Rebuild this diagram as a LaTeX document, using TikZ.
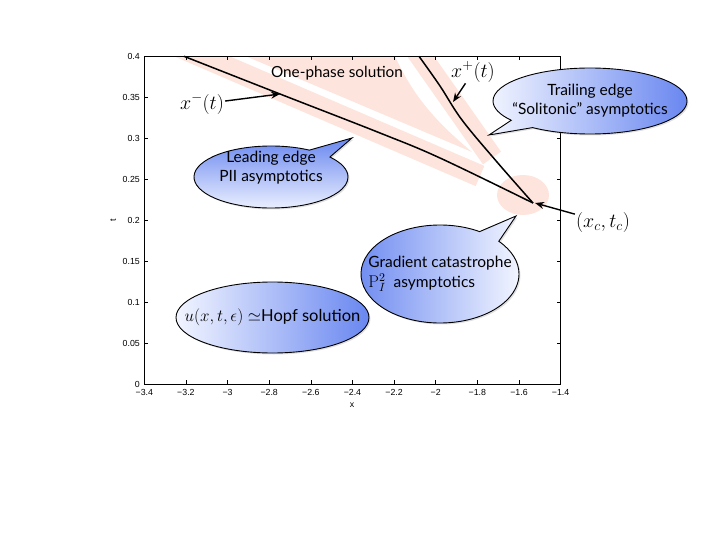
\documentclass[tikz,border=0pt]{standalone}
\usepackage{fix-cm}
\usepackage[no-math]{fontspec}
\setmainfont{Lato}
\newfontfamily\axisfont{Liberation Sans}
\usetikzlibrary{arrows.meta,shapes.geometric,shapes.callouts,shadows}

\definecolor{phasepink}{RGB}{253,228,220}
\definecolor{bubbleblue}{RGB}{105,135,240}
\definecolor{bubblelight}{RGB}{242,245,255}

\tikzset{
  phase/.style={color=phasepink},
  edgecurve/.style={line width=1.5pt, black},
  labelarrow/.style={-{Stealth[length=9pt,width=7pt]}, line width=1.4pt},
  mathlabel/.style={font=\fontsize{20}{23}\selectfont, inner sep=1pt},
  ticklabel/.style={font=\axisfont\fontsize{8.8}{10}\selectfont, inner sep=1pt},
  bubble/.style={draw=black, line width=0.9pt, inner xsep=-22pt, inner ysep=-10pt,
    align=center, font=\fontsize{15.5}{19}\selectfont,
    drop shadow={opacity=0.25, shadow xshift=1.5pt, shadow yshift=-1.5pt}},
}

\begin{document}
\begin{tikzpicture}[x=1pt,y=-1pt]
    \useasboundingbox (0,0) rectangle (719,540);

    \begin{scope}
        \clip (144.3,56.3) rectangle (560.6,384.3);
        \fill[phase] (246,56.3) -- (395,56.3) .. controls (415,100) and (440,125) .. (472,152) -- cycle;
        \draw[phase, line width=22pt] (178,46) -- (480,176);
        \draw[phase, line width=22pt] (412,44) -- (492,158);
        \fill[phase] (523,195) ellipse [x radius=26pt, y radius=20pt];
    \end{scope}

    \draw[line width=0.6pt] (144.3,56.3) rectangle (560.6,384.3);
    \foreach \lab[count=\i] in {−3.4,−3.2,−3,−2.8,−2.6,−2.4,−2.2,−2,−1.8,−1.6,−1.4} {
        \pgfmathsetmacro\px{144.3+41.63*(\i-1)}
        \draw[line width=0.5pt] (\px,384.3) -- ++(0,-4);
        \draw[line width=0.5pt] (\px,56.3) -- ++(0,4);
        \node[ticklabel, anchor=north] (xt\i) at (\px,388.5) {\lab};
    }
    \foreach \lab[count=\i] in {0,0.05,0.1,0.15,0.2,0.25,0.3,0.35,0.4} {
        \pgfmathsetmacro\py{384.3-41*(\i-1)}
        \draw[line width=0.5pt] (144.3,\py) -- ++(4,0);
        \draw[line width=0.5pt] (560.6,\py) -- ++(-4,0);
        \node[ticklabel, anchor=east] (yt\i) at (141,\py) {\lab};
    }
    \node[ticklabel] (xaxis) at (352,405) {x};
    \node[ticklabel, rotate=90] (taxis) at (113,220) {t};

    \draw[edgecurve] plot[smooth, tension=0.6] coordinates {(184,56.3) (280,94) (380,133) (440,158) (533,203)};
    \draw[edgecurve] plot[smooth, tension=0.6] coordinates {(419,56.3) (440,86) (462,120) (497,162) (533,203)};

    \node[font=\fontsize{15.3}{18}\selectfont] (onephase) at (337,73) {One-phase solution};

    \node[bubble, ellipse callout, top color=bubbleblue, bottom color=bubblelight,
        minimum width=154pt, minimum height=62pt,
        callout absolute pointer={(352,138)}, callout pointer arc=20] (leading) at (271,177)
        {Leading edge\\PII asymptotics\\[-4pt]\strut};
    \node[bubble, ellipse callout, left color=bubblelight, right color=bubbleblue,
        minimum width=194pt, minimum height=66pt,
        callout absolute pointer={(489,135)}, callout pointer arc=18] (trailing) at (590,101)
        {Trailing edge\\“Solitonic” asymptotics};
    \node[bubble, ellipse callout, left color=bubbleblue, right color=bubblelight,
        minimum width=158pt, minimum height=98pt, align=left,
        callout absolute pointer={(516,216)}, callout pointer arc=18] (gradient) at (440,274)
        {Gradient catastrophe\\[1pt]{\fontsize{17}{17}\selectfont$\mathrm{P}_I^2$}\ \ asymptotics};
    \node[bubble, ellipse, left color=bubblelight, right color=bubbleblue,
        minimum width=193pt, minimum height=71pt, font=\fontsize{16.5}{19}\selectfont] (hopf) at (272.5,317.5)
        {{\fontsize{17}{19}\selectfont$u(x,t,\epsilon)\simeq$}Hopf solution};

    \node[mathlabel] (xminus) at (202,104) {$x^-(t)$};
    \node[mathlabel] (xplus) at (473,72) {$x^+(t)$};
    \node[mathlabel] (xctc) at (603,222) {$(x_c,t_c)$};
    \coordinate (xminustip) at (280,94);
    \coordinate (xplustip) at (453,102);
    \coordinate (xc) at (535,203);
    \draw[labelarrow] (xminus) -- (xminustip);
    \draw[labelarrow] (xplus) -- (xplustip);
    \draw[labelarrow] (xctc) -- (xc);
\end{tikzpicture}
\end{document}
